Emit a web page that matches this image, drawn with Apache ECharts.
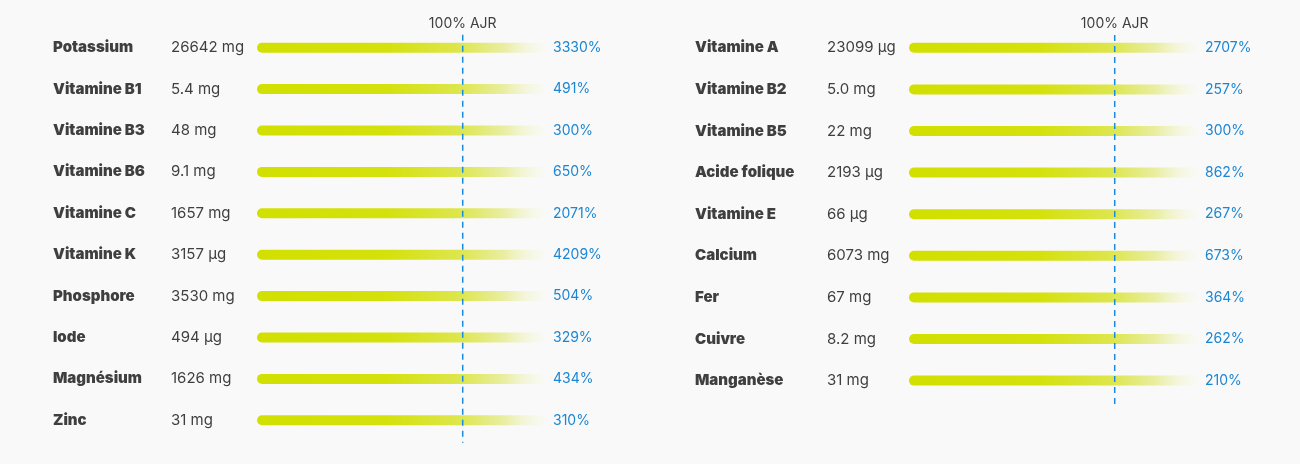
<!DOCTYPE html>
<html>
<head>
<meta charset="utf-8">
<script src="https://cdn.jsdelivr.net/npm/echarts@6/dist/echarts.min.js"></script>
<style>
  html, body { margin: 0; padding: 0; background: #f9f9f9; }
  #chart { width: 1300px; height: 464px; }
</style>
</head>
<body>
<div id="chart"></div>
<script>
// colonne de gauche
const leftNames = ['Potassium', 'Vitamine B1', 'Vitamine B3', 'Vitamine B6', 'Vitamine C', 'Vitamine K', 'Phosphore', 'Iode', 'Magnésium', 'Zinc']
const leftAmounts = ['26642 mg', '5.4 mg', '48 mg', '9.1 mg', '1657 mg', '3157 µg', '3530 mg', '494 µg', '1626 mg', '31 mg']
const leftPct = [3330, 491, 300, 650, 2071, 4209, 504, 329, 434, 310]

// colonne de droite
const rightNames = ['Vitamine A', 'Vitamine B2', 'Vitamine B5', 'Acide folique', 'Vitamine E', 'Calcium', 'Fer', 'Cuivre', 'Manganèse']
const rightAmounts = ['23099 µg', '5.0 mg', '22 mg', '2193 µg', '66 µg', '6073 mg', '67 mg', '8.2 mg', '31 mg']
const rightPct = [2707, 257, 300, 862, 267, 673, 364, 262, 210]

// ligne de référence
const ajrValue = 100
const ajrLabel = '100% AJR'
const axisMax = 140

const FONT = 'Inter, "Noto Sans", sans-serif'
const TEXT = '#3f3f3f'
const BLUE = '#1b86d3'

const barGradient = new echarts.graphic.LinearGradient(0, 0, 1, 0, [
  { offset: 0, color: '#d1e000' },
  { offset: 0.45, color: '#d4e10c' },
  { offset: 0.7, color: '#dde64c' },
  { offset: 0.86, color: '#e9eea3' },
  { offset: 1, color: 'rgba(246,248,225,0.2)' }
])

// construit les axes et séries d'une colonne
function panel (idx, names, amounts, pct, lineTop, lineBottom) {
  const n = names.length
  const labels = names.map((nm, i) => nm + '\n' + amounts[i])
  return {
    yCat: {
      type: 'category',
      gridIndex: idx,
      inverse: true,
      data: labels,
      axisLine: { show: false },
      axisTick: { show: false },
      axisLabel: {
        align: 'left',
        margin: idx === 0 ? 204 : 214,
        formatter (v) {
          const parts = v.split('\n')
          return '{n|' + parts[0] + '}{a|' + parts[1] + '}'
        },
        rich: {
          n: { fontFamily: FONT, fontWeight: 900, fontSize: 15, color: TEXT, width: idx === 0 ? 118 : 132 },
          a: { fontFamily: FONT, fontWeight: 400, fontSize: 15, color: TEXT }
        }
      }
    },
    yVal: {
      type: 'value',
      gridIndex: idx,
      inverse: true,
      min: -0.5,
      max: n - 0.5,
      show: false
    },
    x: {
      type: 'value',
      gridIndex: idx,
      min: 0,
      max: axisMax,
      show: false,
      splitLine: { show: false }
    },
    series: [
      {
        type: 'bar',
        xAxisIndex: idx,
        yAxisIndex: idx * 2,
        barWidth: 10,
        data: pct.map(v => Math.min(v, axisMax)),
        itemStyle: { color: barGradient, borderRadius: 5 },
        label: {
          show: true,
          position: 'right',
          distance: 8,
          fontFamily: FONT,
          fontSize: 14,
          color: BLUE,
          formatter: p => pct[p.dataIndex] + '%'
        },
        silent: true
      },
      {
        type: 'line',
        xAxisIndex: idx,
        yAxisIndex: idx * 2 + 1,
        clip: false,
        symbol: 'circle',
        symbolSize: 0,
        showSymbol: true,
        silent: true,
        z: 5,
        lineStyle: { color: '#1a8ae0', width: 1.5, type: [6, 5] },
        label: { show: false },
        data: [
          {
            value: [ajrValue, lineTop],
            label: {
              show: true,
              position: 'top',
              distance: 4,
              formatter: ajrLabel,
              fontFamily: FONT,
              fontSize: 14,
              color: TEXT
            }
          },
          [ajrValue, lineBottom]
        ]
      }
    ]
  }
}

const left = panel(0, leftNames, leftAmounts, leftPct, -0.31, leftNames.length - 0.46)
const right = panel(1, rightNames, rightAmounts, rightPct, -0.31, rightNames.length - 0.42)

const chart = echarts.init(document.getElementById('chart'))
chart.setOption({
  backgroundColor: '#f9f9f9',
  animation: false,
  grid: [
    { left: 257, width: 288, top: 27, height: 414 },
    { left: 909, width: 288, top: 27, height: 374.4 }
  ],
  xAxis: [left.x, right.x],
  yAxis: [left.yCat, left.yVal, right.yCat, right.yVal],
  series: left.series.concat(right.series)
})
window.addEventListener('resize', () => chart && chart.resize())
</script>
</body>
</html>
